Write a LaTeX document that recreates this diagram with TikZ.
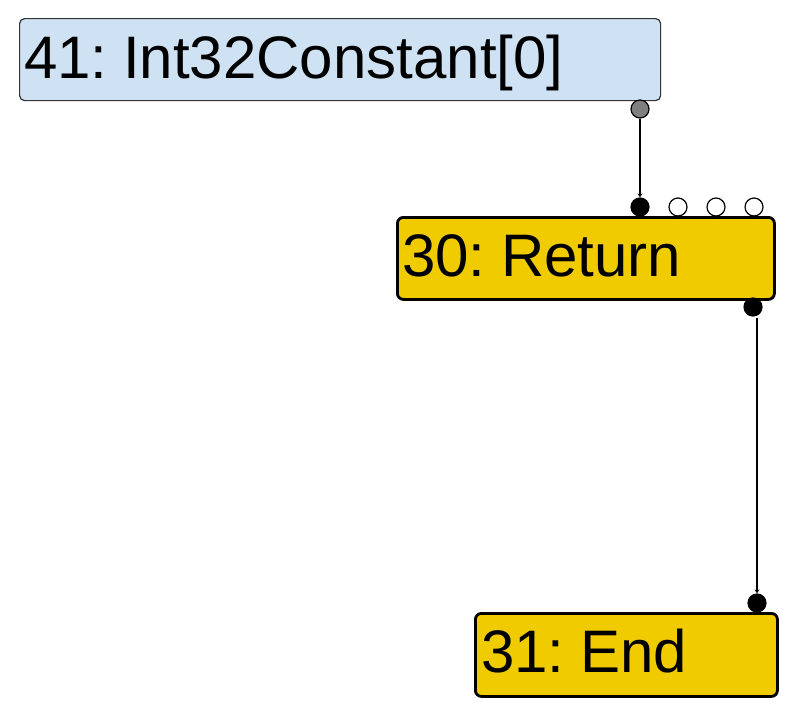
\documentclass[tikz,border=0pt]{standalone}
\usepackage{fontspec}
\setmainfont[WordSpace=0.6]{Liberation Sans}
\usetikzlibrary{arrows.meta,calc}
\definecolor{cblue}{HTML}{CFE2F3}
\definecolor{cgold}{HTML}{F0CB00}
\tikzset{
  constbox/.style={draw=black!80, line width=1.2pt, fill=cblue, rounded corners=5pt, inner sep=0pt, anchor=north west},
  ctrlbox/.style={draw=black, line width=2.8pt, fill=cgold, rounded corners=6pt, inner sep=0pt, anchor=north west},
  lbl/.style={anchor=base west, inner sep=0pt, font=\fontsize{60}{72}\selectfont},
  port/.style={circle, draw=black, line width=1.2pt, minimum size=18pt, inner sep=0pt},
  valport/.style={port, fill=black!50},
  fullport/.style={port, fill=black},
  emptyport/.style={port, fill=white},
  edge/.style={draw=black, line width=2.8pt, -{Stealth[length=4pt,width=5pt,open,line width=1pt]}},
}
\begin{document}
\begin{tikzpicture}[x=1pt,y=-1pt]
\useasboundingbox[fill=white] (0,0) rectangle (794,718);
% nodes
\node[constbox, minimum width=641pt, minimum height=82pt] (n41) at (19,18) {};
\node[lbl] (t41) at (24,78) {41: Int32Constant[0]};
\node[ctrlbox, minimum width=377pt, minimum height=82pt] (n30) at (396,216) {};
\node[lbl] (t30) at (402,276) {30: Return};
\node[ctrlbox, minimum width=302pt, minimum height=83pt] (n31) at (474,612) {};
\node[lbl] (t31) at (481,672) {31: End};
% ports
\node[valport] (p41out) at (640,109) {};
\node[fullport] (p30in0) at (640,207) {};
\node[emptyport] (p30in1) at (678,207) {};
\node[emptyport] (p30in2) at (716,207) {};
\node[emptyport] (p30in3) at (754,207) {};
\node[fullport] (p30out) at (753,307) {};
\node[fullport] (p31in) at (757,603) {};
% edges
\draw[edge] (p41out.south) -- (p30in0.north);
\coordinate (e2s) at (757,318);
\draw[edge] (e2s) -- (p31in.north);
\end{tikzpicture}
\end{document}
